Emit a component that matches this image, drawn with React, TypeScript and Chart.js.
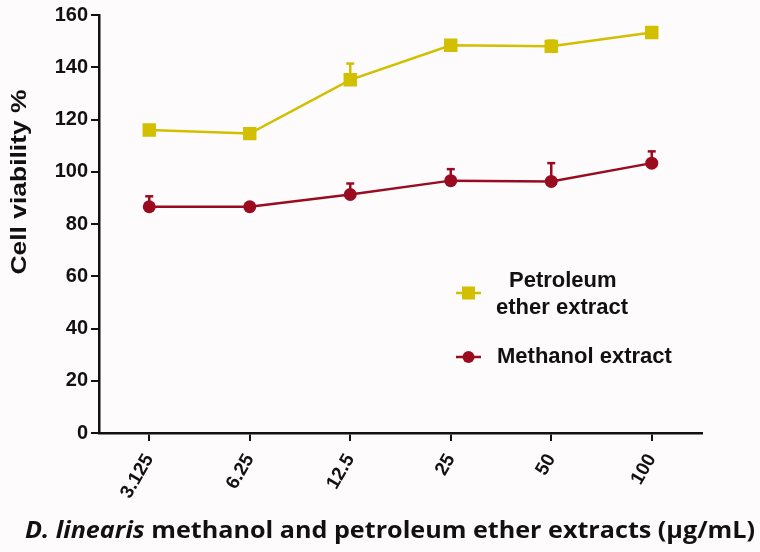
import React, { useEffect, useRef } from "react";
import { Chart, registerables } from "chart.js";

Chart.register(...registerables);

const categories = ["3.125", "6.25", "12.5", "25", "50", "100"];
const petroleumMean = [116, 114.6, 135.2, 148.4, 148, 153.3];
const petroleumErr = [0, 0, 6.2, 0, 2.2, 0];
const methanolMean = [86.6, 86.6, 91.3, 96.6, 96.3, 103.3];
const methanolErr = [4, 0, 4.2, 4.4, 7, 4.5];
const yTicksMax = 160;
const yTicksStep = 20;
const yTitle = "Cell viability %";
const xTitleItalic = "D. linearis";
const xTitleRest = " methanol and petroleum ether extracts (µg/mL)";

const YELLOW = "#d2bf00";
const RED = "#9a0b20";
const BG = "#fdfbfc";

const errorBarPlugin = {
  id: "errorBars",
  afterDatasetsDraw(chart: any) {
    const ctx = chart.ctx;
    const x = chart.scales.x;
    const y = chart.scales.y;
    const sets = [
      { mean: petroleumMean, err: petroleumErr, color: YELLOW },
      { mean: methanolMean, err: methanolErr, color: RED },
    ];
    ctx.save();
    sets.forEach((s) => {
      s.mean.forEach((m, i) => {
        if (!s.err[i]) return;
        const px = x.getPixelForValue(i);
        const y0 = y.getPixelForValue(m);
        const y1 = y.getPixelForValue(m + s.err[i]);
        ctx.strokeStyle = s.color;
        ctx.lineWidth = 2.5;
        ctx.beginPath();
        ctx.moveTo(px, y0);
        ctx.lineTo(px, y1);
        ctx.stroke();
        ctx.beginPath();
        ctx.moveTo(px - 4, y1);
        ctx.lineTo(px + 4, y1);
        ctx.stroke();
      });
    });
    ctx.restore();
  },
};

const legendPlugin = {
  id: "customLegend",
  afterDraw(chart: any) {
    const ctx = chart.ctx;
    ctx.save();
    const items = [
      { color: YELLOW, style: "rect", y: 293, lines: [{ t: "Petroleum", x: 509, y: 281 }, { t: "ether extract", x: 496, y: 308 }] },
      { color: RED, style: "circle", y: 357, lines: [{ t: "Methanol extract", x: 497, y: 357 }] },
    ];
    items.forEach((it) => {
      ctx.strokeStyle = it.color;
      ctx.fillStyle = it.color;
      ctx.lineWidth = 2.5;
      ctx.beginPath();
      ctx.moveTo(456, it.y);
      ctx.lineTo(481, it.y);
      ctx.stroke();
      if (it.style === "rect") {
        ctx.fillRect(462, it.y - 6.5, 13, 13);
      } else {
        ctx.beginPath();
        ctx.arc(468.5, it.y, 6, 0, Math.PI * 2);
        ctx.fill();
      }
      ctx.fillStyle = "#111";
      ctx.font = "bold 22px 'Liberation Sans', Arial, sans-serif";
      ctx.textBaseline = "middle";
      ctx.textAlign = "left";
      it.lines.forEach((l) => ctx.fillText(l.t, l.x, l.y));
    });

    // y axis title (stretched along its length)
    ctx.save();
    ctx.translate(20, 182);
    ctx.rotate(-Math.PI / 2);
    ctx.font = "bold 22px 'Liberation Sans', Arial, sans-serif";
    const wy = ctx.measureText(yTitle).width;
    ctx.scale(185 / wy, 1);
    ctx.textAlign = "center";
    ctx.textBaseline = "middle";
    ctx.fillStyle = "#111";
    ctx.fillText(yTitle, 0, 0);
    ctx.restore();

    // x axis title with italic part
    const fItal = "italic bold 23px 'Open Sans', sans-serif";
    const fReg = "bold 23px 'Open Sans', sans-serif";
    ctx.font = fItal;
    const w1 = ctx.measureText(xTitleItalic).width;
    ctx.font = fReg;
    const w2 = ctx.measureText(xTitleRest).width;
    const total = w1 + w2;
    const target = 730;
    const sx = target / total;
    ctx.save();
    ctx.translate(390 - target / 2, 538);
    ctx.scale(sx, 1);
    ctx.fillStyle = "#111";
    ctx.textBaseline = "alphabetic";
    ctx.textAlign = "left";
    ctx.font = fItal;
    ctx.fillText(xTitleItalic, 0, 0);
    ctx.font = fReg;
    ctx.fillText(xTitleRest, w1, 0);
    ctx.restore();
    ctx.restore();
  },
};

const bgPlugin = {
  id: "bg",
  beforeDraw(chart: any) {
    const ctx = chart.ctx;
    ctx.save();
    ctx.fillStyle = BG;
    ctx.fillRect(0, 0, chart.width, chart.height);
    ctx.restore();
  },
};

export default function App() {
  const ref = useRef<HTMLCanvasElement>(null);
  useEffect(() => {
    if (!ref.current) return;
    const chart = new Chart(ref.current, {
      type: "line",
      data: {
        labels: categories,
        datasets: [
          {
            label: "Petroleum ether extract",
            data: petroleumMean,
            borderColor: YELLOW,
            backgroundColor: YELLOW,
            borderWidth: 2.5,
            pointStyle: "rect",
            pointRadius: 9.5,
            pointHoverRadius: 9.5,
            pointBorderWidth: 0,
            tension: 0,
          },
          {
            label: "Methanol extract",
            data: methanolMean,
            borderColor: RED,
            backgroundColor: RED,
            borderWidth: 2.5,
            pointStyle: "circle",
            pointRadius: 6.5,
            pointHoverRadius: 6.5,
            pointBorderWidth: 0,
            tension: 0,
          },
        ],
      },
      options: {
        animation: false,
        responsive: false,
        events: [],
        layout: { padding: { top: 15, right: 58, left: 0, bottom: 0 } },
        plugins: {
          legend: { display: false },
          tooltip: { enabled: false },
        },
        scales: {
          x: {
            offset: true,
            grid: {
              drawOnChartArea: false,
              drawTicks: true,
              tickLength: 8,
              color: "#111",
              lineWidth: 2,
              offset: false,
            },
            border: { display: true, color: "#111", width: 2.5 },
            ticks: {
              color: "#111",
              font: { family: "'Liberation Sans', Arial, sans-serif", size: 19, weight: "bold" },
              maxRotation: 60,
              minRotation: 60,
              padding: 9,
            },
            afterFit(scale: any) {
              scale.height = 119;
            },
          },
          y: {
            min: 0,
            max: yTicksMax,
            ticks: {
              stepSize: yTicksStep,
              color: "#111",
              font: { family: "'Liberation Sans', Arial, sans-serif", size: 20, weight: "bold" },
              padding: 3,
            },
            grid: {
              drawOnChartArea: false,
              drawTicks: true,
              tickLength: 8,
              color: "#111",
              lineWidth: 2,
            },
            border: { display: true, color: "#111", width: 2.5 },
            afterFit(scale: any) {
              scale.width = 99;
            },
          },
        },
      },
      plugins: [bgPlugin, errorBarPlugin, legendPlugin],
    });
    return () => chart.destroy();
  }, []);
  return (
    <div style={{ position: "fixed", left: 0, top: 0, width: 760, height: 552, background: BG }}>
      <canvas ref={ref} width={760} height={552} style={{ display: "block" }} />
    </div>
  );
}
